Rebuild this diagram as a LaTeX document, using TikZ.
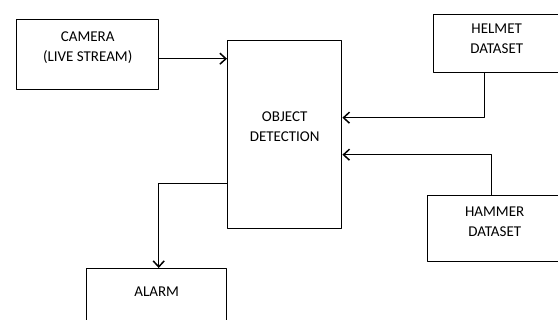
\documentclass[tikz,border=0pt]{standalone}
\usepackage{fontspec}
\setmainfont{Carlito}
\usetikzlibrary{arrows.meta}
\tikzset{
  blok/.style={draw, line width=1.4pt, inner sep=0pt, align=center, anchor=north west}
}
\begin{document}
\begin{tikzpicture}[x=1pt,y=-1pt,font=\fontsize{15}{19.5}\selectfont, line join=round, >={Straight Barb[length=6pt,width=11pt]}, line width=1.5pt] %so do khoi
	\useasboundingbox (0,0) rectangle (558,320);
	\node[blok, minimum width=142pt, text height=41.5pt, text depth=28.5pt] (camera) at (16,19) {CAMERA\\(LIVE STREAM)};
	\node[blok, minimum width=114pt, text height=100.5pt, text depth=87.5pt] (od) at (227,40) {OBJECT\\DETECTION};
	\node[blok, minimum width=126pt, text height=38.5pt, text depth=19.5pt] (helmet) at (433,14) {HELMET\\DATASET};
	\node[blok, minimum width=134pt, text height=40.5pt, text depth=25.5pt] (hammer) at (427,195) {HAMMER\\DATASET};
	\node[blok, minimum width=140pt, text height=28pt, text depth=42pt] (alarm) at (86,268) {ALARM};
	\draw[->] ([yshift=-4pt]camera.east) -- ([yshift=-4pt]camera.east -| od.west);
	\draw[->] ([xshift=-12pt]helmet.south) |- ([yshift=17pt]od.east);
	\draw[->] ([xshift=-3pt]hammer.north) |- ([yshift=-20pt]od.east);
	\draw[->] ([yshift=-49pt]od.west) -| ([xshift=2pt]alarm.north);
	%\draw[->] (od.south) -- (alarm.north);
\end{tikzpicture}
\end{document}
